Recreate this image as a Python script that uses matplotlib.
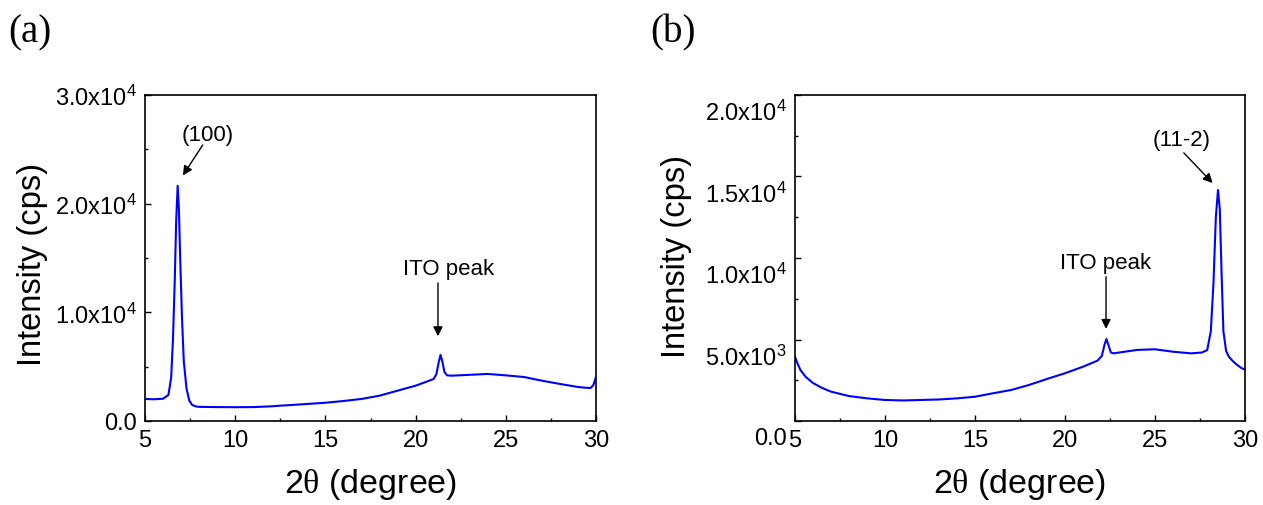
import matplotlib
matplotlib.use("Agg")
import matplotlib.pyplot as plt
from matplotlib.ticker import MultipleLocator, FuncFormatter
from matplotlib.transforms import ScaledTranslation

plt.rcParams["font.family"] = ["Liberation Sans", "DejaVu Sans"]
plt.rcParams["mathtext.fontset"] = "custom"
plt.rcParams["mathtext.rm"] = "Liberation Serif"
plt.rcParams["mathtext.default"] = "regular"

# ── XRD scans ──────────────────────────────────────────────────────────────────
tth_a = [5.0, 5.5, 6.0, 6.3, 6.45, 6.55, 6.65, 6.73, 6.81, 6.88, 6.95, 7.05,
         7.15, 7.3, 7.45, 7.6, 7.8, 8.0, 9.0, 10.0, 11.0, 12.0, 12.5, 13.0,
         14.0, 15.0, 16.0, 17.0, 18.0, 19.0, 20.0, 20.5, 21.0, 21.15, 21.28,
         21.38, 21.48, 21.6, 21.75, 22.0, 23.0, 24.0, 25.0, 26.0, 27.0, 28.0,
         29.0, 29.5, 29.7, 29.85, 30.0]
int_a = [2030, 2000, 2050, 2400, 4000, 7500, 13000, 18500, 21650, 19500, 15000,
         9500, 5500, 3000, 1900, 1500, 1350, 1300, 1280, 1270, 1280, 1350,
         1410, 1460, 1570, 1680, 1840, 2030, 2330, 2790, 3250, 3550, 3870,
         4300, 5400, 6080, 5500, 4500, 4200, 4170, 4250, 4330, 4200, 4050,
         3710, 3410, 3130, 3050, 3040, 3300, 4050]

tth_b = [5.0, 5.15, 5.3, 5.6, 6.0, 6.5, 7.0, 8.0, 9.0, 10.0, 11.0, 12.0, 13.0,
         14.0, 15.0, 16.0, 17.0, 18.0, 19.0, 20.0, 21.0, 21.8, 22.05, 22.2,
         22.3, 22.4, 22.55, 22.7, 23.0, 24.0, 25.0, 26.0, 27.0, 27.6, 27.9,
         28.1, 28.25, 28.38, 28.5, 28.6, 28.7, 28.8, 28.95, 29.1, 29.3, 29.55,
         29.8, 30.0]
int_b = [3930, 3500, 3130, 2700, 2330, 2030, 1800, 1530, 1390, 1290, 1260,
         1290, 1320, 1390, 1490, 1700, 1900, 2210, 2580, 2930, 3330, 3700,
         4000, 4700, 5030, 4700, 4200, 4150, 4200, 4360, 4400, 4250, 4150,
         4200, 4350, 5500, 8500, 12500, 14170, 13000, 9000, 5500, 4300, 3950,
         3700, 3450, 3250, 3150]

W, H = 1263, 506
fig = plt.figure(figsize=(W / 100, H / 100), dpi=100)


def px_axes(left, top, right, bottom):
    return fig.add_axes([left / W, 1 - bottom / H, (right - left) / W, (bottom - top) / H])


def sci_label(v, pos):
    if v == 0:
        return "0.0"
    exp = len(str(int(v))) - 1
    return f"{v / 10**exp:.1f}x10$^{exp}$"


def style(ax, ymax, ymajor):
    ax.set_xlim(5, 30)
    ax.set_ylim(0, ymax)
    ax.xaxis.set_major_locator(MultipleLocator(5))
    ax.xaxis.set_minor_locator(MultipleLocator(2.5))
    ax.yaxis.set_major_locator(MultipleLocator(ymajor))
    ax.yaxis.set_minor_locator(MultipleLocator(ymajor / 2))
    ax.yaxis.set_major_formatter(FuncFormatter(sci_label))
    ax.tick_params(which="both", direction="in", width=1.0, labelsize=17, pad=6)
    ax.tick_params(which="major", length=4)
    ax.tick_params(which="minor", length=2.5)
    for s in ax.spines.values():
        s.set_linewidth(1.2)


arrow = dict(arrowstyle="-|>", color="black", lw=1.0, mutation_scale=14,
             shrinkA=0, shrinkB=0)

# ── (a) ────────────────────────────────────────────────────────────────────────
ax1 = px_axes(145, 96, 596, 422)
ax1.plot(tth_a, int_a, color="#0000ff", lw=1.5)
style(ax1, 30000, 10000)
ax1.annotate("", xy=(7.1, 22600), xytext=(8.2, 25400), arrowprops=arrow)
ax1.text(8.5, 26400, "(100)", fontsize=16, ha="center", va="center")
ax1.annotate("", xy=(21.24, 7800), xytext=(21.24, 12700), arrowprops=arrow)
ax1.text(21.85, 14000, "ITO peak", fontsize=16, ha="center", va="center")

# ── (b) ────────────────────────────────────────────────────────────────────────
ax2 = px_axes(795, 96, 1245, 422)
ax2.plot(tth_b, int_b, color="#0000ff", lw=1.5)
style(ax2, 20000, 5000)
ax2.annotate("", xy=(28.2, 14600), xytext=(26.6, 16450), arrowprops=arrow)
ax2.text(26.5, 17300, "(11-2)", fontsize=16, ha="center", va="center")
ax2.annotate("", xy=(22.28, 5650), xytext=(22.28, 8850), arrowprops=arrow)
ax2.text(22.28, 9750, "ITO peak", fontsize=16, ha="center", va="center")
# tick labels sit a little below their ticks on this panel
shift = ScaledTranslation(0, -0.15, fig.dpi_scale_trans)
for lab in ax2.get_yticklabels():
    lab.set_transform(lab.get_transform() + shift)

# ── labels ─────────────────────────────────────────────────────────────────────
for xc in (371, 1020):
    fig.text(xc / W, 1 - 485 / H, r"2$\mathrm{\theta}$ (degree)", fontsize=24.5,
             ha="center", va="center")
for xc, yc in ((33, 265), (677, 257)):
    fig.text(xc / W, 1 - yc / H, "Intensity (cps)", fontsize=23.5, rotation=90,
             ha="center", va="center")
for xl, t in ((8, "(a)"), (650, "(b)")):
    fig.text(xl / W, 1 - 33 / H, t, fontsize=28, family="Liberation Serif",
             ha="left", va="center")

fig.savefig("out.png", dpi=100)
